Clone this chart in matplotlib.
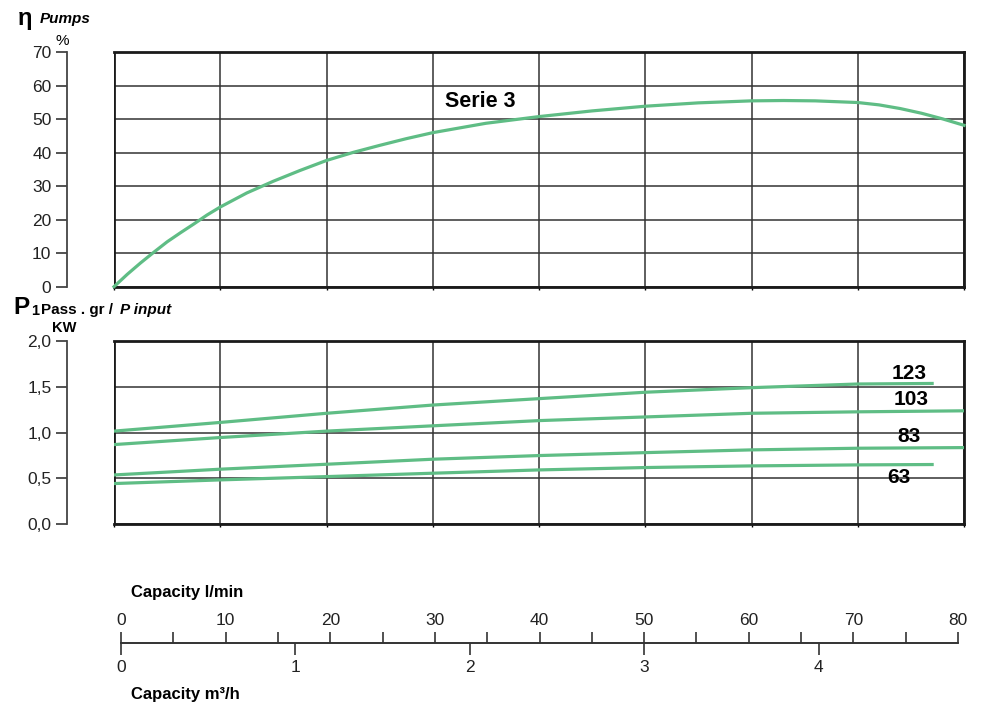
import matplotlib
matplotlib.use("Agg")
import matplotlib.pyplot as plt

plt.rcParams["font.family"] = ["Liberation Sans", "DejaVu Sans"]

# efficiency curve, Serie 3 (capacity l/min -> %)
eff_q = [0, 1.25, 2.5, 3.75, 5, 6.25, 7.5, 8.75, 10, 12.5, 15, 17.5, 20,
         22.5, 25, 27.5, 30, 35, 40, 45, 50, 55, 60, 63, 66, 70, 72, 74,
         76, 78, 80]
eff_val = [0, 3.7, 7.1, 10.3, 13.4, 16.1, 18.7, 21.4, 23.8, 28, 31.5, 34.7,
           37.7, 40.1, 42.2, 44.2, 46, 48.8, 50.8, 52.5, 53.9, 54.9, 55.5,
           55.6, 55.5, 55.0, 54.3, 53.2, 51.8, 50.1, 48.2]

# power input per model (kW)
pow_q_full = [0, 10, 20, 30, 40, 50, 60, 70, 80]
pow_q_short = [0, 10, 20, 30, 40, 50, 60, 70, 77]
p123 = [1.015, 1.11, 1.21, 1.30, 1.37, 1.44, 1.49, 1.53, 1.536]
p103 = [0.868, 0.945, 1.015, 1.073, 1.13, 1.17, 1.21, 1.226, 1.237]
p83 = [0.536, 0.599, 0.653, 0.708, 0.748, 0.78, 0.81, 0.828, 0.835]
p63 = [0.442, 0.482, 0.518, 0.555, 0.591, 0.617, 0.635, 0.646, 0.65]
power_series = [("123", pow_q_short, p123, 74.8, 1.65),
                ("103", pow_q_full, p103, 75.0, 1.366),
                ("83", pow_q_full, p83, 74.8, 0.96),
                ("63", pow_q_short, p63, 73.9, 0.51)]

eff_ticks = [0, 10, 20, 30, 40, 50, 60, 70]
pow_ticks = [0.0, 0.5, 1.0, 1.5, 2.0]
pow_labels = ["0,0", "0,5", "1,0", "1,5", "2,0"]
lmin_ticks = [0, 10, 20, 30, 40, 50, 60, 70, 80]
m3h_ticks = [0, 1, 2, 3, 4]

GREEN = "#5fbd85"
GRID = "#333333"
FRAME = "#1a1a1a"
W, H = 1000, 715

fig = plt.figure(figsize=(10, 7.15), dpi=100)


def frame_axes(ax, yticks, ylim, ylabels=None):
    ax.set_xlim(0, 80)
    ax.set_ylim(*ylim)
    for x in range(0, 81, 10):
        ax.axvline(x, color=GRID, lw=1.1, zorder=1)
    for y in yticks:
        ax.axhline(y, color=GRID, lw=1.1, zorder=1)
    ax.axvline(0, color=FRAME, lw=2, zorder=1)
    for s in ["top", "bottom", "right"]:
        ax.spines[s].set_linewidth(2)
        ax.spines[s].set_color(FRAME)
    ax.spines["left"].set_position(("outward", 34))
    ax.spines["left"].set_color("#444444")
    ax.spines["left"].set_linewidth(1.3)
    ax.set_yticks(yticks)
    if ylabels:
        ax.set_yticklabels(ylabels)
    ax.tick_params(axis="y", length=8, width=1.3, color="#444444",
                   labelsize=12.5, pad=3, labelcolor="#222222")
    ax.set_xticks(range(0, 81, 10))
    ax.tick_params(axis="x", length=2.5, width=1, labelbottom=False)


# top panel: efficiency
ax1 = fig.add_axes([114 / W, 1 - 286.7 / H, 850 / W, (286.7 - 52.3) / H])
frame_axes(ax1, eff_ticks, (0, 70))
ax1.plot(eff_q, eff_val, color=GREEN, lw=2.3, zorder=3, clip_on=False)
ax1.text(34.5, 55.4, "Serie 3", fontsize=15.5, fontweight="bold",
         ha="center", va="center")

# bottom panel: power input
ax2 = fig.add_axes([114 / W, 1 - 524 / H, 850 / W, (524 - 341) / H])
frame_axes(ax2, pow_ticks, (0, 2.0), pow_labels)
for name, q, p, tx, ty in power_series:
    ax2.plot(q, p, color=GREEN, lw=2.3, zorder=3)
    ax2.text(tx, ty, name, fontsize=15, fontweight="bold",
             ha="center", va="center")

# capacity scales
ax3 = fig.add_axes([121 / W, 1 - 643 / H, 837 / W, 0.0001])
ax3.set_xlim(0, 80)
ax3.set_yticks([])
for s in ["left", "right", "bottom"]:
    ax3.spines[s].set_visible(False)
ax3.spines["top"].set_linewidth(1.2)
ax3.spines["top"].set_color("#333333")
ax3.xaxis.tick_top()
ax3.set_xticks(lmin_ticks)
ax3.set_xticks(range(5, 80, 10), minor=True)
ax3.tick_params(axis="x", which="both", direction="out", length=8, width=1.2,
                color="#333333", labelsize=12.5, pad=3, labelcolor="#222222")
ax3.tick_params(axis="x", which="minor", labeltop=False)

sec = ax3.secondary_xaxis("bottom", functions=(lambda q: q * 0.06,
                                               lambda v: v / 0.06))
sec.set_xticks(m3h_ticks)
sec.spines["bottom"].set_linewidth(1.2)
sec.spines["bottom"].set_color("#333333")
sec.tick_params(axis="x", direction="out", length=8.5, width=1.2,
                color="#333333", labelsize=12.5, pad=4, labelcolor="#222222")

# titles and unit labels
fig.text(18 / W, 1 - 19 / H, "η", fontsize=17, fontweight="bold",
         va="center", ha="left")
fig.text(40 / W, 1 - 19 / H, "Pumps", fontsize=11, fontweight="bold",
         style="italic", va="center", ha="left")
fig.text(62 / W, 1 - 41 / H, "%", fontsize=11, va="center", ha="center")

fig.text(13 / W, 1 - 308 / H, "P", fontsize=17.5, fontweight="bold",
         va="center", ha="left")
fig.text(31 / W, 1 - 311 / H, "1", fontsize=10.5, fontweight="bold",
         va="center", ha="left")
fig.text(41 / W, 1 - 310 / H, "Pass . gr /", fontsize=11, fontweight="bold",
         va="center", ha="left")
fig.text(120 / W, 1 - 310 / H, "P input", fontsize=11, fontweight="bold",
         style="italic", va="center", ha="left")
fig.text(64 / W, 1 - 328 / H, "KW", fontsize=10.5, fontweight="bold",
         va="center", ha="center")

fig.text(131 / W, 1 - 592 / H, "Capacity l/min", fontsize=12,
         fontweight="bold", va="center", ha="left")
fig.text(131 / W, 1 - 695 / H, "Capacity m³/h", fontsize=12,
         fontweight="bold", va="center", ha="left")

fig.savefig("out.png", dpi=100, facecolor="white")
